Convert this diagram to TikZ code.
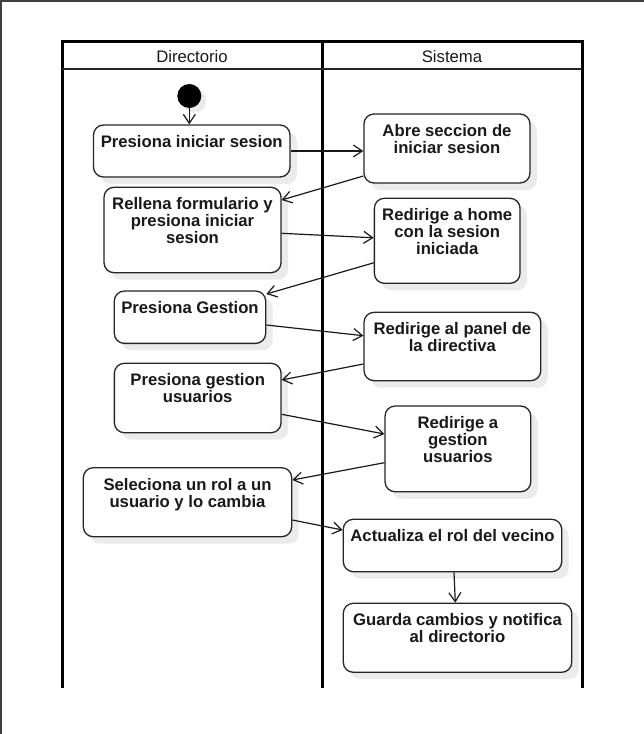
\documentclass[tikz,border=0pt]{standalone}
\usepackage{fontspec}
\setmainfont{Liberation Sans}
\usetikzlibrary{arrows.meta,calc,shadows}
\begin{document}
\begin{tikzpicture}[x=1pt,y=-1pt,
  lane/.style={line width=3pt,black,line cap=rect},
  sep/.style={line width=2pt,black!85},
  frameline/.style={line width=1.6pt,black!75},
  hdr/.style={font=\fontsize{16.7pt}{16.7pt}\selectfont,anchor=base,inner sep=0pt,text=black!90},
  actbox/.style={draw=black!85,line width=1.3pt,rounded corners=10pt,fill=white,
    drop shadow={shadow xshift=7pt,shadow yshift=-7pt,fill=black!8,opacity=1},inner sep=0pt},
  txt/.style={anchor=north,inner sep=0pt,yshift=-11pt,align=center,text=black!90,
    font=\fontsize{16.7pt}{16.7pt}\selectfont\bfseries},
  startdot/.style={circle,fill=black,minimum size=24pt,inner sep=0pt,
    drop shadow={shadow xshift=5pt,shadow yshift=-5pt,fill=black!8,opacity=1}},
  flow/.style={line width=1.2pt,black!90,-{Straight Barb[length=9pt,width=12pt,line width=1.2pt]}}
]
\useasboundingbox (0,0) rectangle (644,734);
% page frame (top and left edges)
\draw[frameline] (0,0.8) -- (644,0.8);
\draw[frameline] (0.8,0) -- (0.8,734);
% swimlanes
\draw[lane] (62,686) -- (62,41) -- (582,41) -- (582,686);
\draw[lane] (322,41) -- (322,686);
\draw[sep] (62,69) -- (582,69);
\node[hdr] (h1) at (192,62.3) {Directorio};
\node[hdr] (h2) at (452,62.3) {Sistema};
% start
\node[startdot] (s) at (189.3,96) {};
% activities
\node[actbox,minimum width=196.5pt,minimum height=52pt] (b1) at (191.75,151) {};
\node[txt] at (b1.north) {Presiona iniciar sesion};
\node[actbox,minimum width=166pt,minimum height=69pt] (b2) at (447,148.5) {};
\node[txt] at (b2.north) {Abre seccion de\\iniciar sesion};
\node[actbox,minimum width=177pt,minimum height=85.4pt] (b3) at (192.5,230) {};
\node[txt] at (b3.north) {Rellena formulario y\\presiona iniciar\\sesion};
\node[actbox,minimum width=145.7pt,minimum height=85pt] (b4) at (447.2,240.8) {};
\node[txt] at (b4.north) {Redirige a home\\con la sesion\\iniciada};
\node[actbox,minimum width=151.4pt,minimum height=52.3pt] (b5) at (190,317.2) {};
\node[txt] at (b5.north) {Presiona Gestion};
\node[actbox,minimum width=176.7pt,minimum height=68.4pt] (b6) at (452.4,346.5) {};
\node[txt] at (b6.north) {Redirige al panel de\\la directiva};
\node[actbox,minimum width=166.7pt,minimum height=69.4pt] (b7) at (197.7,398) {};
\node[txt] at (b7.north) {Presiona gestion\\usuarios};
\node[actbox,minimum width=145.7pt,minimum height=85.7pt] (b8) at (457.9,448.9) {};
\node[txt] at (b8.north) {Redirige a\\gestion\\usuarios};
\node[actbox,minimum width=208.4pt,minimum height=69pt] (b9) at (187.5,502.2) {};
\node[txt] at (b9.north) {Seleciona un rol a un\\usuario y lo cambia};
\node[actbox,minimum width=218.4pt,minimum height=52.4pt] (b10) at (452.5,545.5) {};
\node[txt] at (b10.north) {Actualiza el rol del vecino};
\node[actbox,minimum width=228.4pt,minimum height=69pt] (b11) at (457.5,637.8) {};
\node[txt] at (b11.north) {Guarda cambios y notifica\\al directorio};
% flows
\draw[flow] (s.south) -- (s.south |- b1.north);
\draw[flow] (b1.east) -- (b1.east -| b2.west);
\draw[flow] ($(b2.west)+(0,27.5)$) -- ($(b3.east)+(0,-30)$);
\draw[flow] ($(b3.east)+(0,3.3)$) -- ($(b4.west)+(0,-3)$);
\draw[flow] ($(b4.west)+(0,22)$) -- ($(b5.east)+(0,-23.2)$);
\draw[flow] ($(b5.east)+(0,7.8)$) -- ($(b6.west)+(0,-10.8)$);
\draw[flow] ($(b6.west)+(0,17.5)$) -- ($(b7.east)+(0,-18)$);
\draw[flow] ($(b7.east)+(0,16.3)$) -- ($(b8.west)+(0,-14.9)$);
\draw[flow] ($(b8.west)+(0,13.8)$) -- ($(b9.east)+(0,-22.2)$);
\draw[flow] ($(b9.east)+(0,17.8)$) -- ($(b10.west)+(0,-15.5)$);
\draw[flow] ($(b10.south)+(1.5,0)$) -- ($(b11.north)+(-2.2,0)$);
\end{tikzpicture}
\end{document}
